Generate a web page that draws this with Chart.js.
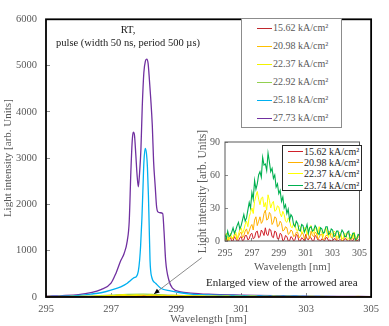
<!DOCTYPE html>
<html>
<head>
<meta charset="utf-8">
<script src="https://cdn.jsdelivr.net/npm/chart.js@4.4.1/dist/chart.umd.min.js"></script>
<style>
  html, body { margin: 0; padding: 0; background: #fff; }
  body { width: 389px; height: 326px; position: relative; overflow: hidden;
         font-family: "Liberation Serif", "Times New Roman", serif; }
  #main-wrap { position: absolute; left: 0; top: 0; width: 389px; height: 326px; }
  #inset-wrap { position: absolute; left: 196px; top: 128px; width: 180px; height: 148px; }
  .note { position: absolute; white-space: nowrap; color: #1a1a1a; font-size: 10.5px; line-height: 13px; text-align: center; }
  .legend { position: absolute; background: #fff; box-sizing: border-box; }
  .legend .row { display: flex; align-items: center; }
  .legend .swatch { display: inline-block; height: 0; border-top: 1.5px solid; }
</style>
</head>
<body>
<div id="main-wrap"><canvas id="chart-main"></canvas></div>
<div id="inset-wrap"><canvas id="chart-inset"></canvas></div>
<div class="note" style="left:58px; top:23px; width:140px;">RT,</div>
<div class="note" style="left:48px; top:36px; width:160px;">pulse (width 50 ns, period 500 µs)</div>
<div class="note" style="left:206px; top:276px; width:150px; font-size:11px;">Enlarged view of the arrowed area</div>
<div id="legend-main" class="legend" style="left:241px; top:18px; width:101px; height:110px; border:1px solid #8c8c8c;"></div>
<div id="legend-inset" class="legend" style="left:282px; top:145px; width:80px; height:46px; border:1px solid #262626;"></div>

<script>
const FONT = '"Liberation Serif", "Times New Roman", serif';

// ── MAIN SERIES (wavelength nm / intensity) ──
const purpleWl  = [295.0, 295.5, 296.0, 296.38, 296.69, 297.0, 297.15, 297.3, 297.4, 297.5, 297.56, 297.61, 297.65, 297.68, 297.72, 297.76, 297.8, 297.84, 297.88, 297.92, 297.96, 298.01, 298.06, 298.1, 298.14, 298.18, 298.22, 298.27, 298.31, 298.36, 298.4, 298.44, 298.52, 298.59, 298.63, 298.68, 298.78, 298.89, 299.14, 299.45, 300.0, 301.0, 302.0, 303.0, 304.0, 305.0];
const purpleVal = [20, 30, 50, 92, 160, 298, 510, 787, 936, 1213, 1638, 2700, 3350, 3560, 3500, 3100, 2650, 2380, 2700, 3200, 4100, 4850, 5100, 5140, 5050, 4700, 4300, 3700, 2920, 2380, 1960, 1840, 1820, 1800, 1420, 790, 362, 190, 113, 85, 60, 40, 28, 20, 14, 10];

const cyanWl  = [295.0, 295.5, 296.0, 296.38, 296.69, 297.0, 297.3, 297.5, 297.61, 297.71, 297.78, 297.84, 297.88, 297.91, 297.95, 297.98, 298.01, 298.05, 298.09, 298.12, 298.15, 298.17, 298.2, 298.25, 298.37, 298.53, 298.83, 299.14, 299.45, 300.0, 301.0, 302.0, 303.0, 304.0, 305.0];
const cyanVal = [10, 18, 35, 64, 92, 149, 220, 298, 362, 419, 440, 560, 800, 1100, 1700, 2300, 2900, 3210, 3100, 2800, 2200, 1640, 790, 433, 298, 190, 134, 92, 64, 45, 30, 20, 15, 10, 8];

const lgreenWl  = [295, 296, 296.5, 297, 297.5, 298, 298.5, 299, 299.5, 300, 301, 302, 303, 304, 305];
const lgreenVal = [8, 15, 25, 40, 55, 60, 50, 35, 25, 18, 12, 10, 8, 6, 5];

// ── INSET SERIES (enlarged low-current spectra, 0.1 nm steps) ──
const insetWl = [
    295.0, 295.1, 295.2, 295.3, 295.4, 295.5, 295.6, 295.7, 295.8, 295.9,
    296.0, 296.1, 296.2, 296.3, 296.4, 296.5, 296.6, 296.7, 296.8, 296.9,
    297.0, 297.1, 297.2, 297.3, 297.4, 297.5, 297.6, 297.7, 297.8, 297.9,
    298.0, 298.1, 298.2, 298.3, 298.4, 298.5, 298.6, 298.7, 298.8, 298.9,
    299.0, 299.1, 299.2, 299.3, 299.4, 299.5, 299.6, 299.7, 299.8, 299.9,
    300.0, 300.1, 300.2, 300.3, 300.4, 300.5, 300.6, 300.7, 300.8, 300.9,
    301.0, 301.1, 301.2, 301.3, 301.4, 301.5, 301.6, 301.7, 301.8, 301.9,
    302.0, 302.1, 302.2, 302.3, 302.4, 302.5, 302.6, 302.7, 302.8, 302.9,
    303.0, 303.1, 303.2, 303.3, 303.4, 303.5, 303.6, 303.7, 303.8, 303.9,
    304.0, 304.1, 304.2, 304.3, 304.4, 304.5, 304.6, 304.7, 304.8, 304.9, 305.0];
const red1562 = [
    1, 3, 0, 2, 3, 0, 0, 4, 2, 0,
    0, 3, 4, 0, 1, 5, 5, 1, 2, 6,
    7, 2, 3, 8, 9, 3, 4, 10, 8, 5,
    12, 6, 5, 11, 10, 4, 3, 9, 8, 2,
    2, 7, 6, 0, 1, 5, 4, 0, 0, 4,
    3, 0, 1, 6, 5, 0, 0, 3, 2, 0,
    6, 2, 1, 4, 3, 0, 0, 5, 4, 1,
    1, 0, 2, 1, 0, 3, 3, 0, 1, 0,
    0, 2, 2, 0, 0, 1, 1, 0, 0, 2,
    2, 0, 0, 1, 1, 0, 3, 2, 0, 1, 1];
const orange2098 = [
    3, 0, 1, 4, 5, 2, 2, 6, 6, 1,
    4, 7, 8, 3, 5, 9, 11, 6, 9, 13,
    15, 10, 19, 22, 14, 18, 22, 16, 18, 25,
    28, 19, 20, 26, 24, 15, 17, 22, 21, 13,
    14, 18, 16, 9, 10, 13, 12, 6, 7, 10,
    9, 4, 5, 8, 8, 3, 4, 7, 7, 2,
    3, 7, 6, 2, 9, 5, 4, 8, 7, 2,
    3, 6, 6, 1, 2, 5, 5, 9, 8, 3,
    3, 7, 6, 1, 2, 6, 5, 0, 1, 5,
    4, 8, 7, 1, 2, 6, 5, 0, 1, 4, 3];
const yellow2237 = [
    4, 7, 2, 0, 7, 3, 3, 6, 8, 2,
    6, 10, 12, 7, 10, 15, 18, 13, 22, 26,
    30, 25, 36, 41, 45, 38, 33, 39, 40, 31,
    35, 28, 42, 37, 30, 34, 36, 27, 28, 32,
    31, 25, 22, 27, 24, 18, 17, 21, 19, 13,
    12, 16, 15, 10, 9, 14, 13, 7, 8, 12,
    12, 6, 9, 13, 14, 8, 7, 12, 11, 5,
    13, 9, 8, 4, 10, 12, 6, 3, 9, 7,
    5, 9, 8, 3, 4, 8, 7, 2, 3, 7,
    6, 1, 2, 6, 5, 2, 8, 4, 3, 6, 4];
const green2374 = [
    6, 2, 9, 4, 5, 8, 12, 7, 10, 14,
    17, 11, 14, 19, 24, 18, 21, 28, 35, 30,
    44, 38, 55, 47, 52, 60, 63, 58, 76, 69,
    70, 64, 80, 72, 63, 66, 57, 60, 49, 52,
    43, 46, 36, 40, 30, 33, 25, 29, 19, 24,
    22, 15, 13, 18, 16, 10, 9, 15, 14, 8,
    11, 15, 7, 12, 13, 9, 10, 14, 12, 7,
    6, 12, 11, 7, 8, 13, 13, 6, 7, 11,
    10, 4, 5, 9, 9, 3, 6, 10, 8, 4,
    4, 8, 9, 2, 3, 7, 7, 1, 2, 6, 5];

// ── LABELS / COLOURS ──
const mainLabels = ['15.62 kA/cm²', '20.98 kA/cm²', '22.37 kA/cm²', '22.92 kA/cm²', '25.18 kA/cm²', '27.73 kA/cm²'];
const mainColors = ['#c0282d', '#ffc000', '#f2f200', '#92d050', '#00b0f0', '#7030a0'];
const insetLabels = ['15.62 kA/cm²', '20.98 kA/cm²', '22.37 kA/cm²', '23.74 kA/cm²'];
const insetColors = ['#d0202a', '#ffb000', '#ffff00', '#00b050'];

const mainTicksX = [295, 297, 299, 301, 303, 305];
const arrowFrom = [299.79, 850];
const arrowTo = [298.32, 64];

const xy = (wl, val) => wl.map((x, i) => ({ x, y: val[i] }));

// ── PLUGINS ──
const framePlugin = {
    id: 'frame',
    afterDraw(chart, args, opts) {
        const { ctx, chartArea: a } = chart;
        ctx.save();
        ctx.strokeStyle = opts.color;
        ctx.lineWidth = opts.width;
        ctx.strokeRect(a.left, a.top, a.right - a.left, a.bottom - a.top);
        ctx.restore();
    }
};

const arrowPlugin = {
    id: 'arrow',
    afterDatasetsDraw(chart) {
        const { ctx, scales: { x, y } } = chart;
        const x0 = x.getPixelForValue(arrowFrom[0]), y0 = y.getPixelForValue(arrowFrom[1]);
        const x1 = x.getPixelForValue(arrowTo[0]), y1 = y.getPixelForValue(arrowTo[1]);
        const ang = Math.atan2(y1 - y0, x1 - x0);
        ctx.save();
        ctx.strokeStyle = '#7f7f7f';
        ctx.lineWidth = 0.9;
        ctx.beginPath();
        ctx.moveTo(x0, y0);
        ctx.lineTo(x1, y1);
        ctx.stroke();
        ctx.fillStyle = '#000';
        ctx.beginPath();
        ctx.moveTo(x1, y1);
        ctx.lineTo(x1 - 6 * Math.cos(ang - 0.4), y1 - 6 * Math.sin(ang - 0.4));
        ctx.lineTo(x1 - 6 * Math.cos(ang + 0.4), y1 - 6 * Math.sin(ang + 0.4));
        ctx.closePath();
        ctx.fill();
        ctx.restore();
    }
};

function lineSet(label, data, color, width, smooth) {
    return {
        label, data,
        borderColor: color,
        backgroundColor: color,
        borderWidth: width,
        pointRadius: 0,
        fill: false,
        cubicInterpolationMode: smooth ? 'monotone' : 'default',
        tension: 0
    };
}

// ── MAIN CHART ──
new Chart(document.getElementById('chart-main'), {
    type: 'line',
    data: {
        datasets: [
            lineSet(mainLabels[0], xy(insetWl, red1562), mainColors[0], 1.2, false),
            lineSet(mainLabels[1], xy(insetWl, orange2098), mainColors[1], 1.2, false),
            lineSet(mainLabels[2], xy(insetWl, yellow2237), mainColors[2], 1.6, false),
            lineSet(mainLabels[3], xy(lgreenWl, lgreenVal), mainColors[3], 1.2, true),
            lineSet(mainLabels[4], xy(cyanWl, cyanVal), mainColors[4], 1.3, true),
            lineSet(mainLabels[5], xy(purpleWl, purpleVal), mainColors[5], 1.3, true)
        ]
    },
    options: {
        responsive: true,
        maintainAspectRatio: false,
        animation: false,
        layout: { padding: { top: 15, right: 17, left: 0, bottom: 0 } },
        scales: {
            x: {
                type: 'linear', min: 295, max: 305,
                afterBuildTicks: s => { s.ticks = mainTicksX.map(v => ({ value: v })); },
                afterFit: s => { s.height = 29; },
                ticks: { color: '#595959', font: { family: FONT, size: 10.5 }, padding: 10, maxRotation: 0, callback: v => String(v) },
                grid: { drawOnChartArea: false, tickLength: -4, color: '#8c8c8c' },
                border: { display: false },
                title: { display: true, text: 'Wavelength [nm]', color: '#595959', font: { family: FONT, size: 11 }, padding: { top: 0, bottom: 0 } }
            },
            y: {
                min: 0, max: 6000,
                afterFit: s => { s.width = 46; },
                ticks: { stepSize: 1000, color: '#595959', font: { family: FONT, size: 10.5 }, padding: 13, callback: v => String(v) },
                grid: { drawOnChartArea: false, tickLength: -4, color: '#8c8c8c' },
                border: { display: false },
                title: { display: true, text: 'Light intensity [arb. Units]', color: '#595959', font: { family: FONT, size: 11 }, padding: { top: 2, bottom: 0 } }
            }
        },
        plugins: {
            legend: { display: false },
            tooltip: { enabled: false },
            frame: { color: '#000', width: 1.8 }
        }
    },
    plugins: [framePlugin, arrowPlugin]
});

// ── INSET CHART ──
new Chart(document.getElementById('chart-inset'), {
    type: 'line',
    data: {
        datasets: [
            lineSet(insetLabels[0], xy(insetWl, red1562), insetColors[0], 1, false),
            lineSet(insetLabels[1], xy(insetWl, orange2098), insetColors[1], 1, false),
            lineSet(insetLabels[2], xy(insetWl, yellow2237), insetColors[2], 1, false),
            lineSet(insetLabels[3], xy(insetWl, green2374), insetColors[3], 1.1, false)
        ].reverse()
    },
    options: {
        responsive: true,
        maintainAspectRatio: false,
        animation: false,
        layout: { padding: { top: 11, right: 11, left: 0, bottom: 0 } },
        scales: {
            x: {
                type: 'linear', min: 295, max: 305,
                afterBuildTicks: s => { s.ticks = mainTicksX.map(v => ({ value: v })); },
                afterFit: s => { s.height = 35; },
                ticks: { color: '#595959', font: { family: FONT, size: 10 }, padding: 9, maxRotation: 0, callback: v => String(v) },
                grid: { drawOnChartArea: false, tickLength: -3, color: '#8c8c8c' },
                border: { display: false },
                title: { display: true, text: 'Wavelength [nm]', color: '#595959', font: { family: FONT, size: 11 }, padding: { top: 0, bottom: 2 } }
            },
            y: {
                min: 0, max: 90,
                afterFit: s => { s.width = 29; },
                ticks: { stepSize: 30, color: '#595959', font: { family: FONT, size: 10 }, padding: 8, callback: v => String(v) },
                grid: { drawOnChartArea: false, tickLength: -3, color: '#8c8c8c' },
                border: { display: false },
                title: { display: true, text: 'Light intensity [arb. Units]', color: '#595959', font: { family: FONT, size: 11.5 }, padding: { top: 0, bottom: 0 } }
            }
        },
        plugins: {
            legend: { display: false },
            tooltip: { enabled: false },
            frame: { color: '#595959', width: 1 }
        }
    },
    plugins: [framePlugin]
});

// ── LEGENDS (html) ──
function buildLegend(id, labels, colors, opts) {
    const box = document.getElementById(id);
    labels.forEach((lab, i) => {
        const row = document.createElement('div');
        row.className = 'row';
        row.style.height = opts.rowH + 'px';
        row.style.paddingLeft = opts.padL + 'px';
        const sw = document.createElement('span');
        sw.className = 'swatch';
        sw.style.width = opts.swW + 'px';
        sw.style.borderTopColor = colors[i];
        sw.style.marginRight = '1px';
        const tx = document.createElement('span');
        tx.textContent = lab;
        tx.style.fontSize = opts.size + 'px';
        tx.style.color = opts.color;
        tx.style.lineHeight = opts.rowH + 'px';
        row.appendChild(sw);
        row.appendChild(tx);
        box.appendChild(row);
    });
}
buildLegend('legend-main', mainLabels, mainColors, { rowH: 18, padL: 15, swW: 15, size: 10, color: '#595959' });
buildLegend('legend-inset', insetLabels, insetColors, { rowH: 11.2, padL: 5, swW: 15, size: 10, color: '#262626' });
</script>
</body>
</html>
